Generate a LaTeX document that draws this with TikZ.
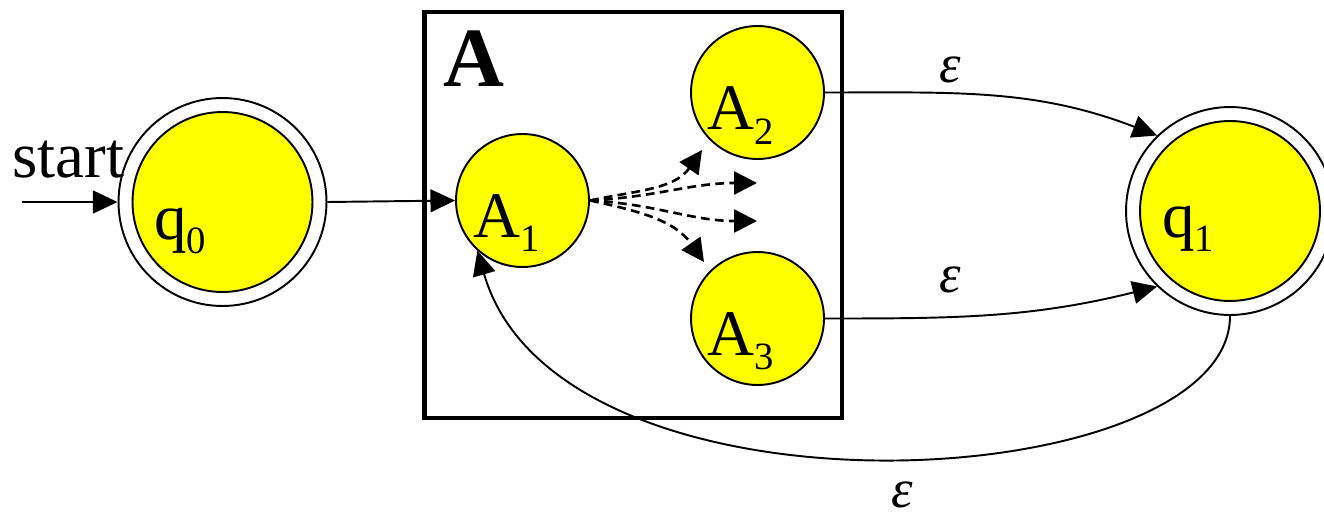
\documentclass[tikz,border=0pt]{standalone}
\usepackage{fontspec}
\setmainfont{Liberation Serif}
\usetikzlibrary{arrows.meta}
\definecolor{yel}{RGB}{255,255,0}
\newcommand\stlab[2]{#1\raisebox{-8pt}{\fontsize{22}{22}\selectfont #2}}
\begin{document}
\begin{tikzpicture}[x=0.02cm,y=0.02cm,
  arr/.style={line width=1.1pt,-{Triangle[length=14pt,width=13pt]}},
  dsh/.style={line width=1.5pt,dash pattern=on 5pt off 3pt,-{Triangle[length=13pt,width=13pt]}},
  outerst/.style={circle,draw,line width=1.1pt,fill=white,minimum size=4.16cm,inner sep=0},
  innerst/.style={circle,draw,line width=1.1pt,fill=yel,minimum size=3.6cm,inner sep=0},
  subst/.style={circle,draw,line width=1.1pt,fill=yel,minimum size=2.66cm,inner sep=0},
  txt/.style={inner sep=0,anchor=base west,font=\fontsize{37}{37}\selectfont},
  eps/.style={inner sep=0,font=\fontsize{31}{31}\selectfont\itshape}]
\useasboundingbox (0,0) rectangle (1324,-517);
% box
\node[draw,line width=2.8pt,minimum width=8.36cm,minimum height=8.12cm,inner sep=0] (box) at (633,-215) {};
\node[inner sep=0,anchor=base west,font=\fontsize{48}{48}\selectfont\bfseries] (boxA) at (443,-87) {A};
% states
\node[outerst] (q0) at (222.5,-202) {};
\node[innerst] (q0i) at (222.5,-202) {};
\node[outerst] (q1) at (1230,-211) {};
\node[innerst] (q1i) at (1230,-211) {};
\node[subst] (A1) at (522.5,-200.5) {};
\node[subst] (A2) at (757.5,-92.5) {};
\node[subst] (A3) at (757.5,-318.5) {};
% labels
\node[txt] (lq0) at (154,-239) {\stlab{q}{0}};
\node[txt] (lq1) at (1162,-237) {\stlab{q}{1}};
\node[txt] (lA1) at (473,-237) {\stlab{A}{1}};
\node[txt] (lA2) at (707,-130) {\stlab{A}{2}};
\node[txt] (lA3) at (707,-355) {\stlab{A}{3}};
\node[txt] (lstart) at (12,-177) {start};
% start arrow
\coordinate (s) at (22,-202);
\draw[arr] (s) -- (q0.west);
\draw[arr] (q0.east) -- (A1.west);
% epsilon edges
\draw[arr] (A2.east) to[out=0,in=159] (q1.134);
\draw[arr] (A3.east) to[out=0,in=194] (q1.-134);
\draw[arr] (q1.south) .. controls +(0,-180) and +(82,-285) .. (A1.-132);
\node[eps] (e1) at (950,-70) {ε};
\node[eps] (e2) at (950,-280) {ε};
\node[eps] (e3) at (902,-495) {ε};
% dashed fan
\coordinate (d1) at (702,-150);
\coordinate (d2) at (757,-183);
\coordinate (d3) at (757,-221);
\coordinate (d4) at (704,-262);
\draw[dsh] (A1.east) to[out=12,in=-125] (d1);
\draw[dsh] (A1.east) to[out=3,in=180] (d2);
\draw[dsh] (A1.east) to[out=-3,in=180] (d3);
\draw[dsh] (A1.east) to[out=-12,in=125] (d4);
\end{tikzpicture}
\end{document}
